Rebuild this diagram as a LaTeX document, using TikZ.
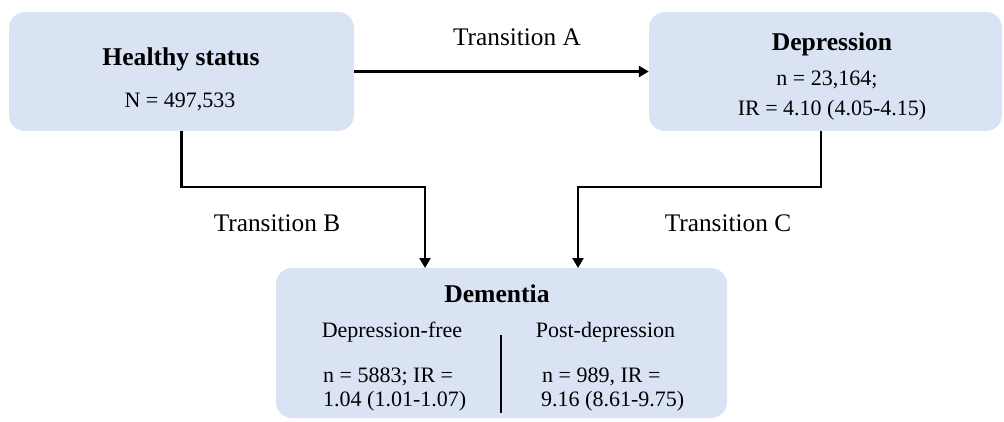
\documentclass[tikz,border=0pt]{standalone}
\usepackage{fontspec}
\setmainfont{Liberation Serif}
\usetikzlibrary{arrows.meta,calc}
\definecolor{boxblue}{HTML}{DAE3F3}
\begin{document}
\begin{tikzpicture}[x=1pt,y=-1pt,
  box/.style={draw=none,fill=boxblue,rounded corners=16pt,inner sep=0pt},
  ttl/.style={font=\fontsize{25.6}{28}\selectfont\bfseries,inner sep=0pt,anchor=base},
  txt/.style={font=\fontsize{22}{26}\selectfont,inner sep=0pt,anchor=base},
  txtl/.style={font=\fontsize{22}{26}\selectfont,inner sep=0pt,anchor=base west},
  lab/.style={font=\fontsize{25.3}{28}\selectfont,inner sep=0pt,anchor=base},
  arr/.style={line width=2.9pt,-{Triangle[width=11pt,length=10pt]}},
  sep/.style={line width=2.2pt}]
\useasboundingbox (0,0) rectangle (1004,422);
% boxes
\node[box,minimum width=345pt,minimum height=119pt] (healthy) at (181.5,71.5) {};
\node[box,minimum width=353pt,minimum height=119pt] (depression) at (825.5,71.5) {};
\node[box,minimum width=451pt,minimum height=150pt] (dementia) at (501.5,343) {};
% texts
\node[ttl] (h1) at (181,66) {Healthy status};
\node[txt] (h2) at (180,108) {N = 497,533};
\node[ttl] (d1) at (832,51) {Depression};
\node[txt] (d2) at (827,86) {n = 23,164;};
\node[txt] (d3) at (832,116) {IR = 4.10 (4.05-4.15)};
\node[ttl] (m1) at (497,302) {Dementia};
\node[txt] (m2) at (392,337) {Depression-free};
\node[txt] (m3) at (605.5,337) {Post-depression};
\node[txtl] (m4) at (323,382) {n = 5883; IR =};
\node[txtl] (m5) at (323,406) {1.04 (1.01-1.07)};
\node[txtl] (m6) at (542,382) {n = 989, IR =};
\node[txtl] (m7) at (541,406) {9.16 (8.61-9.75)};
% labels
\node[lab] (ta) at (517,46) {Transition A};
\node[lab] (tb) at (277,232) {Transition B};
\node[lab] (tc) at (728,232) {Transition C};
% coordinates
\coordinate (bin) at (425,268);
\coordinate (cin) at (578,268);
\coordinate (cout) at (821,131);
\coordinate (sepTop) at (501,335);
\coordinate (sepBot) at (501,413);
% connectors
\draw[arr] (healthy.east) -- (depression.west);
\draw[arr] (healthy.south) -- (healthy.south |- 0,187) -| (bin);
\draw[arr] (cout) -- (cout |- 0,187) -| (cin);
\draw[sep] (sepTop) -- (sepBot);
\end{tikzpicture}
\end{document}
